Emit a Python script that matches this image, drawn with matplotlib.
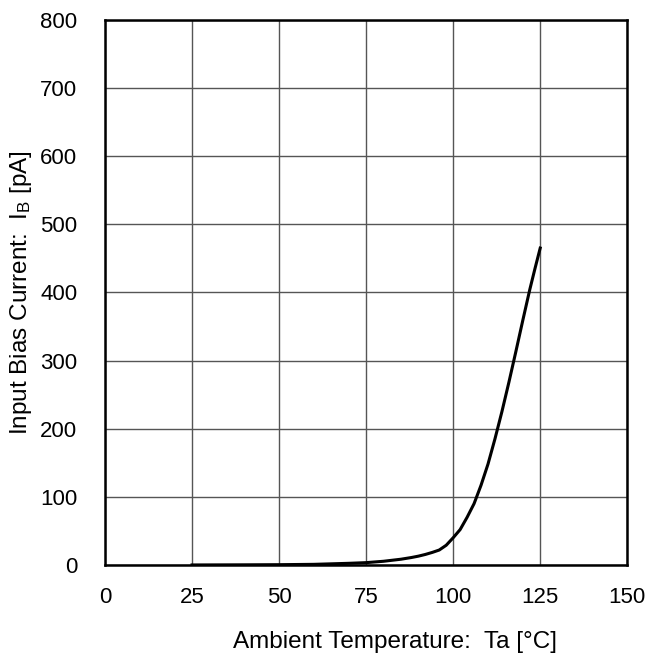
import matplotlib.pyplot as plt

plt.rcParams['font.family'] = ['Liberation Sans', 'DejaVu Sans']
plt.rcParams['mathtext.fontset'] = 'custom'
plt.rcParams['mathtext.rm'] = 'Liberation Sans'
plt.rcParams['mathtext.it'] = 'Liberation Sans'

# input bias current vs ambient temperature
temp = [25, 40, 50, 60, 70, 75, 80, 85, 88, 90, 92, 94, 96, 98, 100, 102, 104, 106,
        108, 110, 112, 114, 116, 118, 120, 122, 123.5, 125]
ib = [0.1, 0.3, 0.5, 1.0, 2.5, 3.5, 5.5, 8.5, 11, 13, 15.5, 18.5, 22, 29, 40, 52, 70, 90,
      117, 148, 185, 225, 268, 313, 359, 404, 435, 465]

xticks = [0, 25, 50, 75, 100, 125, 150]
yticks = [0, 100, 200, 300, 400, 500, 600, 700, 800]


def main():
	fig = plt.figure(figsize=(6.48, 6.57), dpi=100)
	ax = fig.add_axes([0.162, 0.140, 0.806, 0.830])

	ax.plot(temp, ib, color='black', linewidth=2.2, zorder=3, solid_joinstyle='round')

	ax.set_xlim(0, 150)
	ax.set_ylim(0, 800)
	ax.set_xticks(xticks)
	ax.set_yticks(yticks)
	ax.grid(True, color='#555555', linewidth=1.0)
	ax.set_axisbelow(True)
	ax.tick_params(axis='both', length=0, labelsize=16)
	ax.tick_params(axis='x', pad=16)
	ax.tick_params(axis='y', pad=20)
	for s in ax.spines.values():
		s.set_linewidth(1.8)
		s.set_color('black')

	ax.set_xlabel('Ambient Temperature:  Ta [°C]', fontsize=17.5)
	ax.xaxis.set_label_coords(0.556, -0.121)
	ax.set_ylabel(r'Input Bias Current:  I$_\mathregular{B}$ [pA]', fontsize=17.5, labelpad=4)

	fig.savefig('out.png', dpi=100)
	return


if __name__ == '__main__':
	main()
